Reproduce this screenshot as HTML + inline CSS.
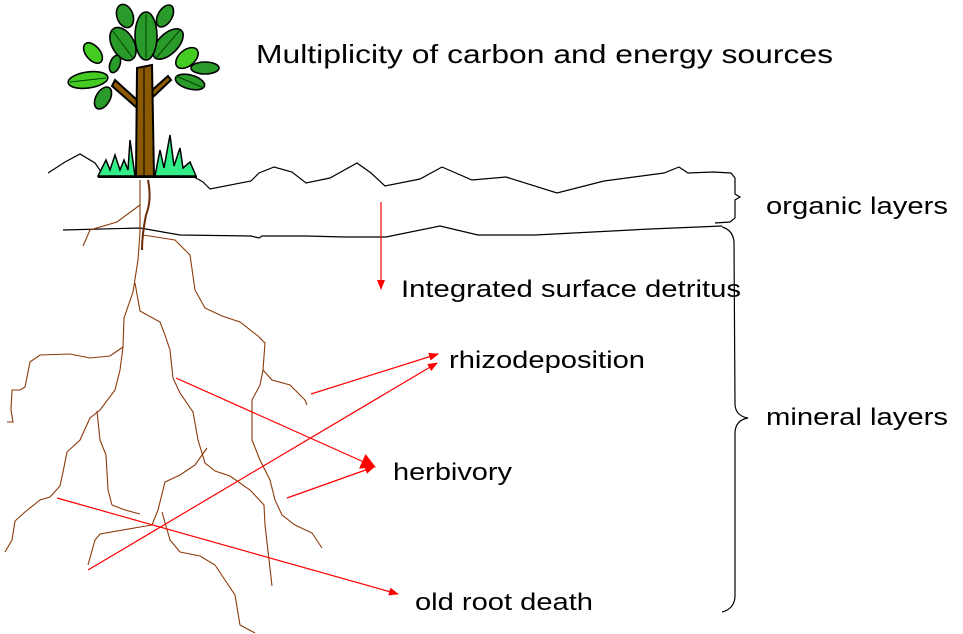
<!DOCTYPE html>
<html><head><meta charset="utf-8"><style>
html,body{margin:0;padding:0;background:#fff;}
svg{display:block;}
text{font-family:"Liberation Sans",Arial,sans-serif;fill:#000;}
</style></head><body>
<svg width="963" height="634" viewBox="0 0 963 634" xmlns="http://www.w3.org/2000/svg">
<defs>
<marker id="ah" markerWidth="10" markerHeight="10" refX="9" refY="5" orient="auto" markerUnits="userSpaceOnUse">
<path d="M0,1 L10,5 L0,9 z" fill="#f00"/>
</marker>
<marker id="ahb" markerWidth="16" markerHeight="16" refX="14" refY="8" orient="auto" markerUnits="userSpaceOnUse">
<path d="M0,0 L15,8 L0,16 z" fill="#f00"/>
</marker>
</defs>

<!-- soil lines -->
<g fill="none" stroke="#000" stroke-width="1.2">
<polyline points="48,173 65,162 80,154 95,163 102,173"/>
<polyline points="187,173 203,182 210,189 251,181 259,173 274,167 292,172 306,183 330,178 357,163 371,173 385,186 420,179 442,167 472,180 506,177 557,193 604,181 664,173 679,167 688,173 713,172 731,173 735,178 735,194 740,197 735,200 735,218 730,222 715,223"/>
<polyline points="63,230 140,228 180,235 251,236 259,238 262,236 306,236 345,237 386,237 440,226 478,235 535,235 650,229 722,226"/>
<path d="M722,227 Q733,230 734,242 L735,405 Q736,416 748,418 Q736,420 735,432 L735,597 Q734,609 722,612"/>
</g>

<!-- roots -->
<g fill="none" stroke="#8B3A0A" stroke-width="1.1">
<polyline points="140,180 140,232 138,260 133,292 124,318 123,347 120,370 115,390 100,410 90,418 80,440 67,452 63,472 60,486 50,497 40,500 25,512 15,521 12,540 5,552"/>
<polyline points="123,347 110,356 90,358 70,354 40,355 30,362 25,387 20,390 12,390 11,410 13,422 7,422"/>
<polyline points="135,283 140,311 160,322 165,335 170,350 173,378 180,393 193,412 198,440 205,463 215,471 230,476 250,490 264,505 265,525 272,586"/>
<polyline points="207,448 195,465 180,475 165,482 158,510 152,525 140,527 100,534 95,540 88,565"/>
<polyline points="97,411 100,440 106,455 108,490 112,505 125,510 140,514"/>
<polyline points="162,512 170,540 180,552 200,556 215,565 225,580 235,595 240,625 255,633"/>
<polyline points="143,235 175,240 190,255 195,290 205,308 222,316 240,322 258,336 265,343 263,370 260,385 252,400 252,440 260,460 270,480 275,500 282,515 295,525 312,533 322,548"/>
<polyline points="263,370 272,380 290,385 305,400 307,405"/>
<polyline points="83,246 90,230 117,222 140,205"/>
<path d="M148,180 Q152,200 146,215 Q142,235 142,250" stroke="#6b2a05" stroke-width="2"/>
</g>

<!-- red arrows -->
<g stroke="#f00" stroke-width="1.2" fill="none">
<line x1="381" y1="202" x2="381" y2="289" marker-end="url(#ah)"/>
<line x1="311" y1="394" x2="438" y2="354" marker-end="url(#ah)"/>
<line x1="88" y1="570" x2="437" y2="363" marker-end="url(#ah)"/>
<line x1="176" y1="378" x2="375" y2="467" marker-end="url(#ahb)"/>
<line x1="287" y1="498" x2="374" y2="467" marker-end="url(#ah)"/>
<line x1="57" y1="498" x2="398" y2="594" marker-end="url(#ah)"/>
</g>

<!-- tree -->
<g stroke="#000" stroke-width="2">
<polygon points="115,80 137,100 137,108 112,86" fill="#8B5A00"/>
<polygon points="150,92 168,76 171,80 152,98" fill="#8B5A00"/>
</g>
<g stroke="#000" stroke-width="1.6">
<ellipse cx="125" cy="16" rx="8" ry="12" transform="rotate(-20 125 16)" fill="#2a9a2a"/>
<ellipse cx="165" cy="16" rx="7" ry="12" transform="rotate(30 165 16)" fill="#2a9a2a"/>
<ellipse cx="123" cy="44" rx="11" ry="18" transform="rotate(-30 123 44)" fill="#2a9a2a"/>
<ellipse cx="168" cy="44" rx="10" ry="19" transform="rotate(45 168 44)" fill="#2a9a2a"/>
<ellipse cx="146" cy="36" rx="11" ry="24" fill="#2a9a2a"/>
<ellipse cx="93" cy="53" rx="7" ry="12" transform="rotate(-40 93 53)" fill="#44cc22"/>
<ellipse cx="115" cy="64" rx="5" ry="9" transform="rotate(20 115 64)" fill="#2a9a2a"/>
<ellipse cx="88" cy="80" rx="20" ry="8" transform="rotate(-8 88 80)" fill="#44cc22"/>
<ellipse cx="103" cy="98" rx="7" ry="12" transform="rotate(30 103 98)" fill="#2a9a2a"/>
<ellipse cx="187" cy="58" rx="8" ry="13" transform="rotate(50 187 58)" fill="#44cc22"/>
<ellipse cx="205" cy="68" rx="14" ry="6" fill="#2a9a2a"/>
<ellipse cx="190" cy="82" rx="15" ry="7" transform="rotate(15 190 82)" fill="#2a9a2a"/>
</g>
<g stroke="#004400" stroke-width="1" fill="none">
<line x1="146" y1="14" x2="146" y2="58"/>
<line x1="112" y1="30" x2="133" y2="58"/>
<line x1="180" y1="30" x2="156" y2="58"/>
<line x1="70" y1="82" x2="106" y2="78"/>
<line x1="176" y1="76" x2="204" y2="88"/>
</g>
<polygon points="137,68 152,65 154,177 136,177" fill="#8B5A00" stroke="#000" stroke-width="2"/>
<line x1="144" y1="68" x2="144" y2="176" stroke="#000" stroke-width="1"/>
<polygon points="98,176 102,168 106,160 110,170 115,155 120,170 124,160 128,170 130,140 135,176 155,176 160,150 164,168 170,135 174,166 180,148 183,168 190,162 196,176" fill="#33ee88" stroke="#000" stroke-width="1.5"/>
<line x1="98" y1="177" x2="197" y2="177" stroke="#000" stroke-width="2"/>

<!-- labels -->
<text x="256" y="63" font-size="26" textLength="577" lengthAdjust="spacingAndGlyphs">Multiplicity of carbon and energy sources</text>
<text x="766" y="214" font-size="24" textLength="182" lengthAdjust="spacingAndGlyphs">organic layers</text>
<text x="401" y="297" font-size="24" textLength="340" lengthAdjust="spacingAndGlyphs">Integrated surface detritus</text>
<text x="449" y="368" font-size="24" textLength="196" lengthAdjust="spacingAndGlyphs">rhizodeposition</text>
<text x="766" y="425" font-size="24" textLength="182" lengthAdjust="spacingAndGlyphs">mineral layers</text>
<text x="393" y="480" font-size="24" textLength="119" lengthAdjust="spacingAndGlyphs">herbivory</text>
<text x="415" y="610" font-size="24" textLength="178" lengthAdjust="spacingAndGlyphs">old root death</text>
</svg>
</body></html>
